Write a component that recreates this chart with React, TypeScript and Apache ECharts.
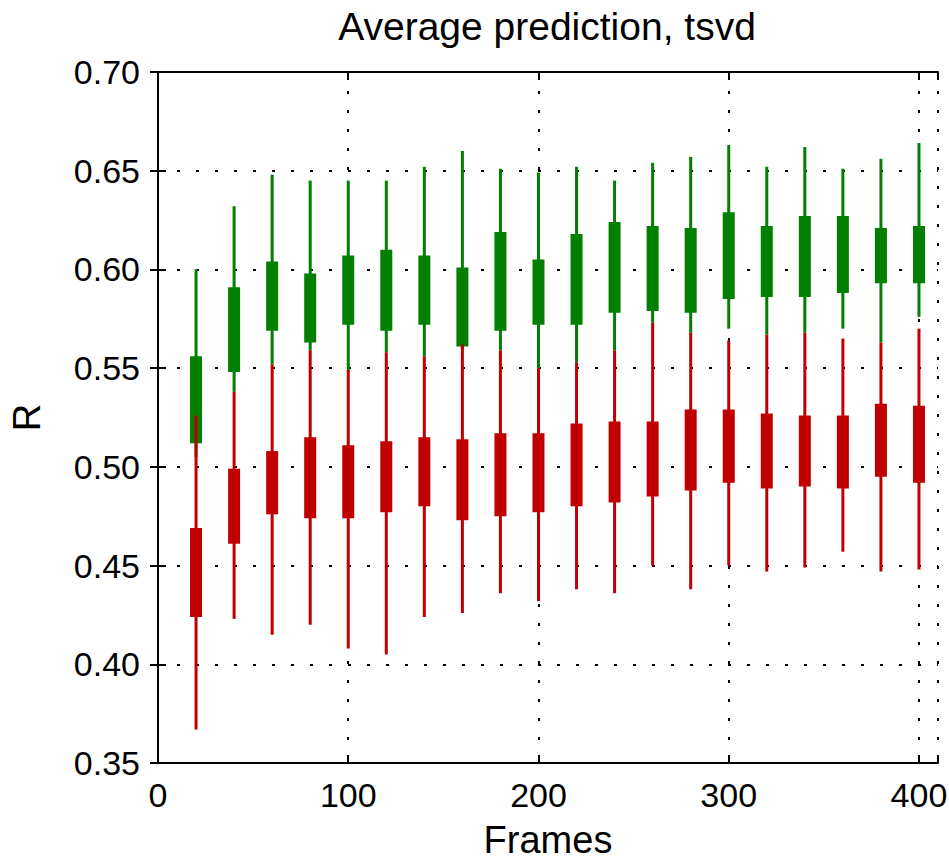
import React, { useEffect, useRef } from "react";
import * as echarts from "echarts";

const positions = [20, 40, 60, 80, 100, 120, 140, 160, 180, 200, 220, 240, 260, 280, 300, 320, 340, 360, 380, 400];

const greenLow = [0.505, 0.538, 0.552, 0.559, 0.549, 0.558, 0.556, 0.560, 0.559, 0.550, 0.553, 0.559, 0.573, 0.568, 0.570, 0.567, 0.568, 0.570, 0.563, 0.576];
const greenQ1 = [0.512, 0.548, 0.569, 0.563, 0.572, 0.569, 0.572, 0.561, 0.569, 0.572, 0.572, 0.578, 0.579, 0.578, 0.585, 0.586, 0.586, 0.588, 0.593, 0.593];
const greenQ3 = [0.556, 0.591, 0.604, 0.598, 0.607, 0.610, 0.607, 0.601, 0.619, 0.605, 0.618, 0.624, 0.622, 0.621, 0.629, 0.622, 0.627, 0.627, 0.621, 0.622];
const greenHigh = [0.600, 0.632, 0.648, 0.645, 0.645, 0.645, 0.652, 0.660, 0.651, 0.649, 0.652, 0.645, 0.654, 0.657, 0.663, 0.652, 0.662, 0.651, 0.656, 0.664];

const redLow = [0.367, 0.423, 0.415, 0.420, 0.408, 0.405, 0.424, 0.426, 0.436, 0.432, 0.438, 0.436, 0.450, 0.438, 0.450, 0.447, 0.449, 0.457, 0.447, 0.448];
const redQ1 = [0.424, 0.461, 0.476, 0.474, 0.474, 0.477, 0.480, 0.473, 0.475, 0.477, 0.480, 0.482, 0.485, 0.488, 0.492, 0.489, 0.490, 0.489, 0.495, 0.492];
const redQ3 = [0.469, 0.499, 0.508, 0.515, 0.511, 0.513, 0.515, 0.514, 0.517, 0.517, 0.522, 0.523, 0.523, 0.529, 0.529, 0.527, 0.526, 0.526, 0.532, 0.531];
const redHigh = [0.526, 0.538, 0.552, 0.559, 0.549, 0.558, 0.556, 0.562, 0.559, 0.550, 0.553, 0.559, 0.573, 0.568, 0.564, 0.567, 0.568, 0.565, 0.563, 0.570];

const xTicks = [0, 100, 200, 300, 400];

const FONT = "Liberation Sans, Arial, sans-serif";

function buildData(low: number[], q1: number[], q3: number[], high: number[]) {
  return positions.map((p, i) => [p, low[i], q1[i], q3[i], high[i]]);
}

function makeRender(color: string) {
  return (params: any, api: any) => {
    const x = api.value(0);
    const lo = api.coord([x, api.value(1)]);
    const b1 = api.coord([x, api.value(2)]);
    const b3 = api.coord([x, api.value(3)]);
    const hi = api.coord([x, api.value(4)]);
    const w = 12;
    return {
      type: "group",
      children: [
        {
          type: "line",
          shape: { x1: lo[0], y1: lo[1], x2: hi[0], y2: hi[1] },
          style: { stroke: color, lineWidth: 3 },
        },
        {
          type: "rect",
          shape: { x: b3[0] - w / 2, y: b3[1], width: w, height: b1[1] - b3[1] },
          style: { fill: color },
        },
      ],
    };
  };
}

export default function App() {
  const ref = useRef<HTMLDivElement>(null);
  useEffect(() => {
    if (!ref.current) return;
    const chart = echarts.init(ref.current, undefined, { renderer: "svg" });
    const axisLine = { show: true, lineStyle: { color: "#000", width: 2 } };
    const tick = { show: true, inside: true, length: 8, lineStyle: { color: "#000", width: 2 } };
    const dotted = { show: true, lineStyle: { color: "#000", width: 2, type: [3, 16] as any } };
    chart.setOption({
      animation: false,
      backgroundColor: "#fff",
      textStyle: { fontFamily: FONT },
      grid: { left: 158, right: 11, top: 72, bottom: 97, containLabel: false, outerBoundsMode: "none" },
      graphic: [
        {
          type: "text",
          x: 547,
          y: 7,
          style: {
            text: "Average prediction, tsvd",
            fontSize: 39,
            fontFamily: FONT,
            fill: "#000",
            textAlign: "center",
            textVerticalAlign: "top",
          },
        },
      ],
      xAxis: [
        {
          type: "value",
          min: 0,
          max: 410,
          interval: 100,
          position: "bottom",
          name: "Frames",
          nameLocation: "middle",
          nameGap: 58,
          nameTextStyle: { fontSize: 38, color: "#000", fontFamily: FONT },
          axisLine,
          axisTick: tick,
          splitLine: dotted,
          axisLabel: {
            fontSize: 34,
            color: "#000",
            margin: 15,
            fontFamily: FONT,
            formatter: (v: number) => (xTicks.indexOf(v) >= 0 ? String(v) : ""),
          },
        },
        {
          type: "value",
          min: 0,
          max: 410,
          interval: 100,
          position: "top",
          axisLine,
          axisTick: tick,
          splitLine: { show: false },
          axisLabel: { show: false },
        },
      ],
      yAxis: [
        {
          type: "value",
          min: 0.35,
          max: 0.7,
          interval: 0.05,
          position: "left",
          name: "R",
          nameLocation: "middle",
          nameGap: 112,
          nameTextStyle: { fontSize: 38, color: "#000", fontFamily: FONT },
          axisLine,
          axisTick: tick,
          splitLine: dotted,
          axisLabel: {
            fontSize: 34,
            color: "#000",
            margin: 18,
            fontFamily: FONT,
            formatter: (v: number) => v.toFixed(2),
          },
        },
        {
          type: "value",
          min: 0.35,
          max: 0.7,
          interval: 0.05,
          position: "right",
          axisLine,
          axisTick: tick,
          splitLine: { show: false },
          axisLabel: { show: false },
        },
      ],
      series: [
        {
          type: "custom",
          name: "green",
          xAxisIndex: 0,
          yAxisIndex: 0,
          renderItem: makeRender("#007f00"),
          encode: { x: 0, y: [1, 2, 3, 4] },
          data: buildData(greenLow, greenQ1, greenQ3, greenHigh),
          z: 3,
        },
        {
          type: "custom",
          name: "red",
          xAxisIndex: 0,
          yAxisIndex: 0,
          renderItem: makeRender("#c00000"),
          encode: { x: 0, y: [1, 2, 3, 4] },
          data: buildData(redLow, redQ1, redQ3, redHigh),
          z: 4,
        },
      ],
    });
    return () => chart.dispose();
  }, []);
  return (
    <div
      ref={ref}
      style={{ position: "fixed", left: 0, top: 0, width: 949, height: 860, background: "#fff" }}
    />
  );
}
